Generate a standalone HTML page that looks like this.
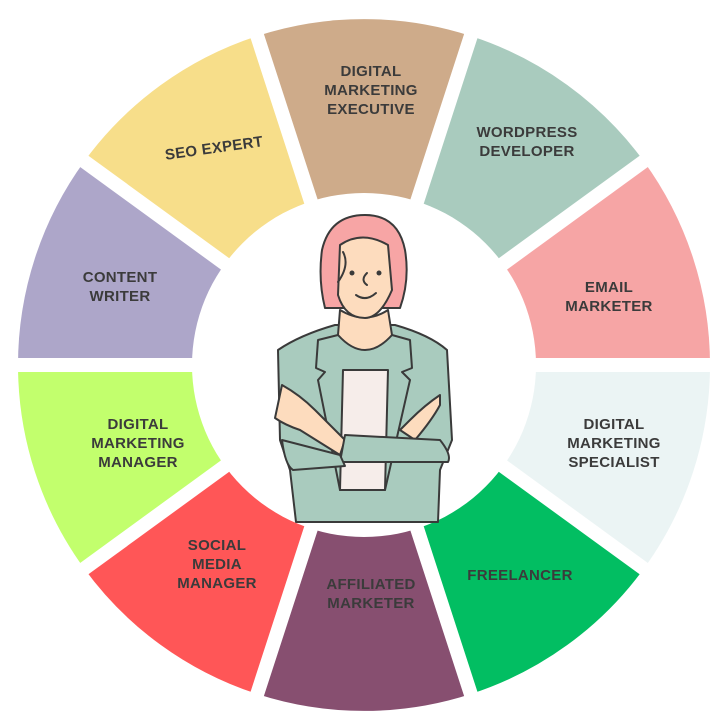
<!DOCTYPE html>
<html><head><meta charset="utf-8"><style>
html,body{margin:0;padding:0;background:#fff;}
svg{display:block}
text{font-family:"Liberation Sans",Arial,sans-serif;font-weight:bold;font-size:15px;fill:#3b3b3b;text-anchor:middle;letter-spacing:0.3px}
</style></head><body>
<svg width="716" height="718" viewBox="0 0 716 718" xmlns="http://www.w3.org/2000/svg">
<g>
<path d="M364,365 L257.1,36 A346,346 0 0 1 470.9,36 Z" fill="#CEAB8A"/>
<path d="M364,365 L470.9,36 A346,346 0 0 1 644,161.6 Z" fill="#A9CBBE"/>
<path d="M364,365 L644,161.6 A346,346 0 0 1 710,365 Z" fill="#F6A5A5"/>
<path d="M364,365 L710,365 A346,346 0 0 1 644,568.4 Z" fill="#EBF4F4"/>
<path d="M364,365 L644,568.4 A346,346 0 0 1 470.9,694 Z" fill="#02BE62"/>
<path d="M364,365 L470.9,694 A346,346 0 0 1 257.1,694 Z" fill="#874F70"/>
<path d="M364,365 L257.1,694 A346,346 0 0 1 84.1,568.4 Z" fill="#FF5657"/>
<path d="M364,365 L84.1,568.4 A346,346 0 0 1 18,365 Z" fill="#C2FF6D"/>
<path d="M364,365 L18,365 A346,346 0 0 1 84.1,161.6 Z" fill="#ADA6C9"/>
<path d="M364,365 L84.1,161.6 A346,346 0 0 1 257.1,36 Z" fill="#F7DE8A"/>
</g>
<g stroke="#fff" stroke-width="14">
<line x1="364" y1="365" x2="252" y2="20"/>
<line x1="364" y1="365" x2="476" y2="20"/>
<line x1="364" y1="365" x2="658" y2="151"/>
<line x1="364" y1="365" x2="730" y2="365"/>
<line x1="364" y1="365" x2="658" y2="579"/>
<line x1="364" y1="365" x2="476" y2="710"/>
<line x1="364" y1="365" x2="252" y2="710"/>
<line x1="364" y1="365" x2="70" y2="579"/>
<line x1="364" y1="365" x2="0" y2="365"/>
<line x1="364" y1="365" x2="70" y2="151"/>
</g>
<circle cx="364" cy="365" r="172" fill="#fff"/>

<!-- person -->
<g stroke="#3a3a3a" stroke-width="2" stroke-linejoin="round" stroke-linecap="round">
<path d="M337,522 L337,480 L385,480 L385,522 Z" fill="#F7A5A5"/>
<path d="M278,350 Q300,335 335,325 L395,325 Q430,335 447,350 L452,440 L440,470 L438,522 L296,522 L290,470 L280,440 Z" fill="#A9CBBE"/>
<path d="M343,370 L388,370 L385,490 L340,490 Z" fill="#F6EDEA"/>
<path d="M340,310 Q365,325 388,310 L392,335 Q365,365 338,335 Z" fill="#FDDCBE"/>
<path d="M338,335 L318,340 L316,368 L325,372 L318,380 L340,490" fill="none"/>
<path d="M392,335 L410,340 L412,368 L402,372 L410,380 L385,490" fill="none"/>
<path d="M282,385 Q300,395 315,410 L345,440 L340,455 L300,430 Q285,425 275,418 Z" fill="#FDDCBE"/>
<path d="M440,395 Q425,405 410,420 L400,430 L415,440 Q432,420 440,405 Z" fill="#FDDCBE"/>
<path d="M345,435 L440,440 Q452,455 448,462 L340,462 Z" fill="#A9CBBE"/>
<path d="M282,440 Q285,465 293,470 L345,466 L340,455 Z" fill="#A9CBBE"/>
<path d="M365,215 Q330,215 322,250 Q318,280 325,308 L400,308 Q410,280 405,250 Q398,215 365,215 Z" fill="#F7A5A5"/>
<path d="M340,245 Q362,230 388,245 L392,290 Q380,318 365,318 Q345,318 338,295 Z" fill="#FDDCBE"/>
<path d="M343,252 Q350,265 338,282" fill="none"/>
<path d="M356,295 Q366,302 376,293" fill="none"/>
<path d="M367,273 Q360,280 367,285" fill="none"/>
</g>
<circle cx="352" cy="273" r="2.5" fill="#3a3a3a"/>
<circle cx="379" cy="273" r="2.5" fill="#3a3a3a"/>

<!-- labels -->
<text x="371" y="76">DIGITAL</text>
<text x="371" y="95">MARKETING</text>
<text x="371" y="114">EXECUTIVE</text>
<text x="527" y="137">WORDPRESS</text>
<text x="527" y="156">DEVELOPER</text>
<text x="609" y="292">EMAIL</text>
<text x="609" y="311">MARKETER</text>
<text x="614" y="429">DIGITAL</text>
<text x="614" y="448">MARKETING</text>
<text x="614" y="467">SPECIALIST</text>
<text x="520" y="580">FREELANCER</text>
<text x="371" y="589">AFFILIATED</text>
<text x="371" y="608">MARKETER</text>
<text x="217" y="550">SOCIAL</text>
<text x="217" y="569">MEDIA</text>
<text x="217" y="588">MANAGER</text>
<text x="138" y="429">DIGITAL</text>
<text x="138" y="448">MARKETING</text>
<text x="138" y="467">MANAGER</text>
<text x="120" y="282">CONTENT</text>
<text x="120" y="301">WRITER</text>
<text x="214" y="153" transform="rotate(-8 214 148)">SEO EXPERT</text>
</svg>
</body></html>
